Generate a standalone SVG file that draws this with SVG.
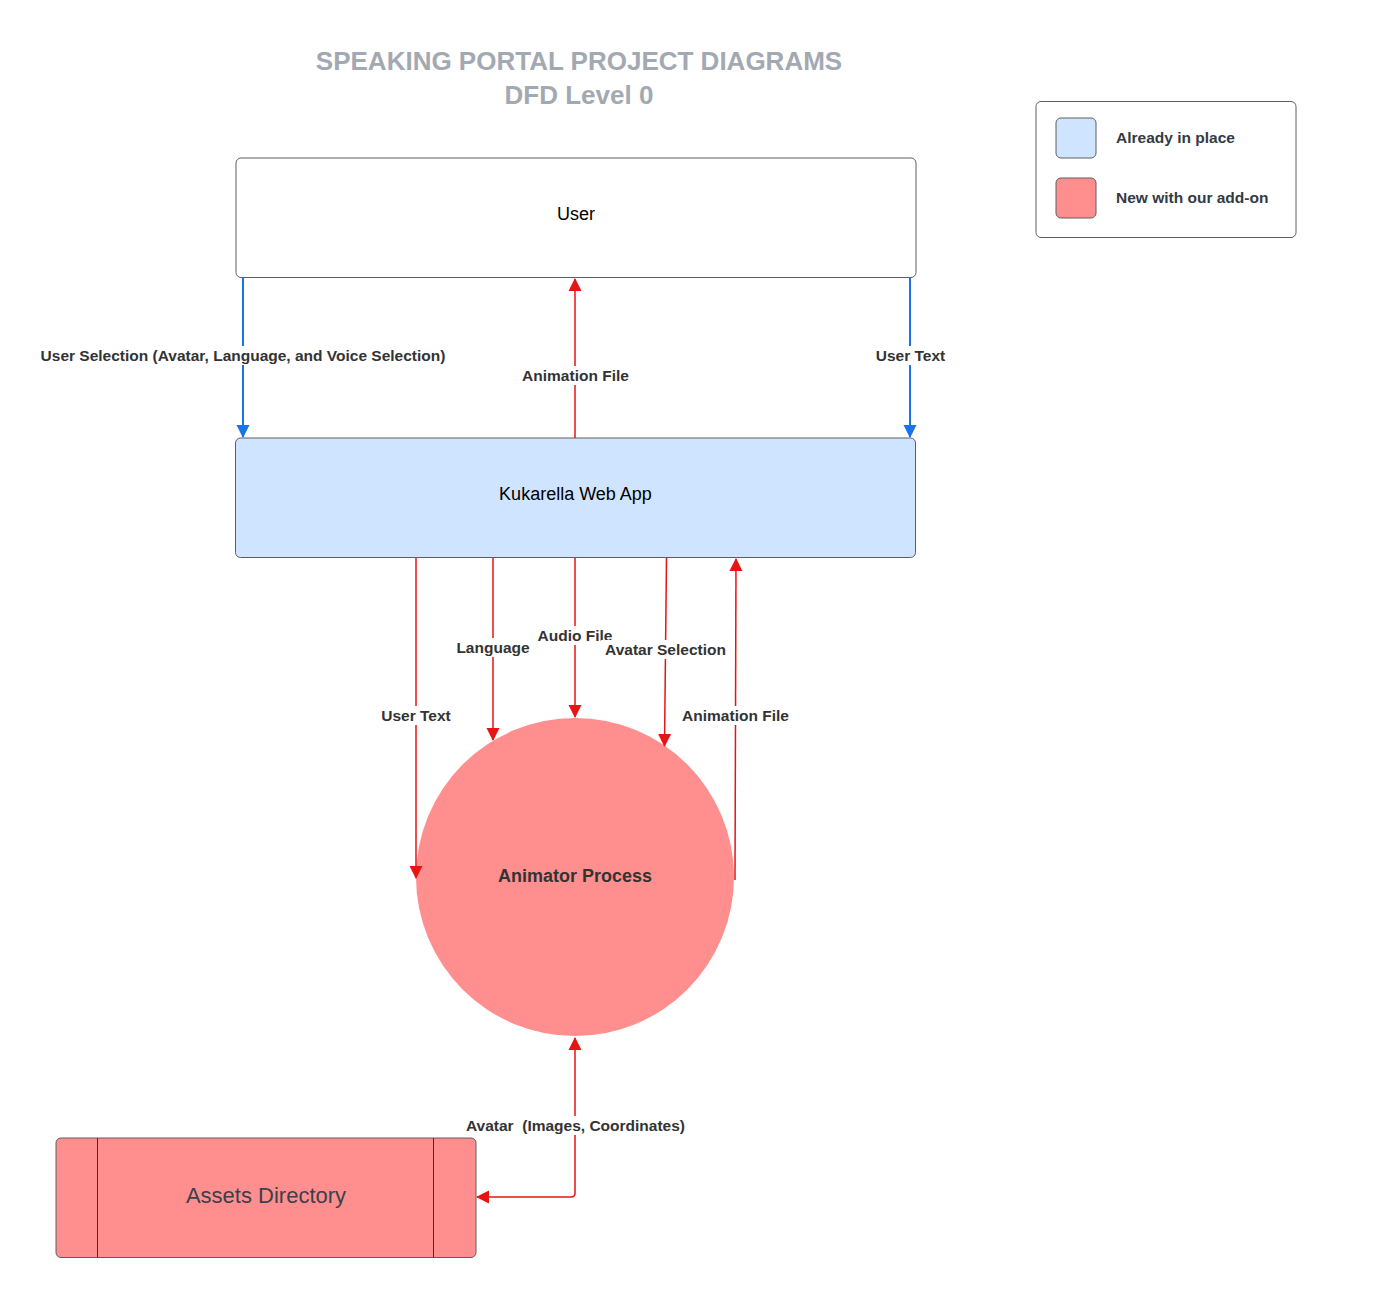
<svg xmlns="http://www.w3.org/2000/svg" width="1396" height="1298" viewBox="0 0 1396 1298">
<defs>
<style>
.box{stroke:#5e5e5e;stroke-width:1}
.lbl{font-family:"Liberation Sans",Arial,sans-serif;font-size:15.5px;font-weight:bold;fill:#333333;text-anchor:middle;white-space:pre}
.lblbg{fill:#ffffff}
.title{font-family:"Liberation Sans",Arial,sans-serif;font-size:26px;font-weight:bold;fill:#a3a9b3;text-anchor:middle}
.node{font-family:"Liberation Sans",Arial,sans-serif;font-size:18px;fill:#000000;text-anchor:middle}
.leg{font-family:"Liberation Sans",Arial,sans-serif;font-size:15.5px;font-weight:bold;fill:#333a45}
.red{stroke:#e81313;stroke-width:1.5;fill:none}
.blue{stroke:#1a73e8;stroke-width:2;fill:none}
</style>
<marker id="ar" markerWidth="13" markerHeight="16" refX="12" refY="8" orient="auto-start-reverse" markerUnits="userSpaceOnUse" viewBox="0 0 13 16">
<path d="M0,1.5 L13,8 L0,14.5 Z" fill="#e81313"/>
</marker>
<marker id="ab" markerWidth="13" markerHeight="16" refX="12" refY="8" orient="auto" markerUnits="userSpaceOnUse" viewBox="0 0 13 16">
<path d="M0,1.5 L13,8 L0,14.5 Z" fill="#1a73e8"/>
</marker>
</defs>
<rect width="1396" height="1298" fill="#ffffff"/>
<g id="title">
<text class="title" x="579" y="70">SPEAKING PORTAL PROJECT DIAGRAMS</text>
<text class="title" x="579" y="104">DFD Level 0</text>
</g>
<g id="legend">
<rect x="1036" y="101.5" width="260" height="136" rx="5" fill="#ffffff" class="box"/>
<rect x="1056" y="118" width="40" height="40" rx="5" fill="#cfe4ff" class="box"/>
<rect x="1056" y="178" width="40" height="40" rx="5" fill="#ff8f8f" class="box"/>
<text class="leg" x="1116" y="143">Already in place</text>
<text class="leg" x="1116" y="203">New with our add-on</text>
</g>
<g id="user">
<rect x="236" y="158" width="680" height="119.5" rx="5" fill="#ffffff" class="box"/>
<text class="node" x="576" y="220">User</text>
</g>
<g id="kukarella">
<rect x="235.5" y="438" width="680" height="119.5" rx="5" fill="#cfe4ff" class="box"/>
<text class="node" x="575.5" y="500">Kukarella Web App</text>
</g>
<g id="animator">
<circle cx="575" cy="877" r="159" fill="#ff8f8f"/>
<text x="575" y="882" style="font-family:'Liberation Sans',Arial,sans-serif;font-size:18px;font-weight:bold;fill:#333333;text-anchor:middle">Animator Process</text>
</g>
<g id="assets">
<rect x="56" y="1138" width="420" height="119.5" rx="5" fill="#ff8f8f" class="box"/>
<line x1="97.5" y1="1138" x2="97.5" y2="1257.5" stroke="#333333" stroke-width="1"/>
<line x1="433.5" y1="1138" x2="433.5" y2="1257.5" stroke="#333333" stroke-width="1"/>
<text x="266" y="1203" style="font-family:'Liberation Sans',Arial,sans-serif;font-size:22px;fill:#3a414a;text-anchor:middle">Assets Directory</text>
</g>
<g id="connectors">
<path class="blue" d="M243,278 L243,437" marker-end="url(#ab)"/>
<path class="blue" d="M910,278 L910,437" marker-end="url(#ab)"/>
<path class="red" d="M575,438 L575,279" marker-end="url(#ar)"/>
<path class="red" d="M416,558 L416,878" marker-end="url(#ar)"/>
<path class="red" d="M493,558 L493,740" marker-end="url(#ar)"/>
<path class="red" d="M575,558 L575,717" marker-end="url(#ar)"/>
<path class="red" d="M666.5,558 L664.5,746" marker-end="url(#ar)"/>
<path class="red" d="M735,880 L736,559" marker-end="url(#ar)"/>
<path class="red" d="M575,1038 L575,1193 Q575,1197 571,1197 L477,1197" marker-start="url(#ar)" marker-end="url(#ar)"/>
</g>
<g id="labels">
<rect class="lblbg" x="38" y="346" width="410" height="19"/>
<text class="lbl" x="243" y="361">User Selection (Avatar, Language, and Voice Selection)</text>
<rect class="lblbg" x="872" y="346" width="77" height="19"/>
<text class="lbl" x="910.5" y="361">User Text</text>
<rect class="lblbg" x="518" y="366" width="115" height="19"/>
<text class="lbl" x="575.5" y="381">Animation File</text>
<rect class="lblbg" x="377" y="706" width="78" height="19"/>
<text class="lbl" x="416" y="721">User Text</text>
<rect class="lblbg" x="453" y="638" width="80" height="19"/>
<text class="lbl" x="493" y="653">Language</text>
<rect class="lblbg" x="534" y="626" width="82" height="19"/>
<text class="lbl" x="575" y="641">Audio File</text>
<rect class="lblbg" x="601" y="640" width="129" height="19"/>
<text class="lbl" x="665.5" y="655">Avatar Selection</text>
<rect class="lblbg" x="678" y="706" width="115" height="19"/>
<text class="lbl" x="735.5" y="721">Animation File</text>
<rect class="lblbg" x="462" y="1116" width="227" height="19"/>
<text class="lbl" x="575.5" y="1131" xml:space="preserve">Avatar  (Images, Coordinates)</text>
</g>
</svg>
